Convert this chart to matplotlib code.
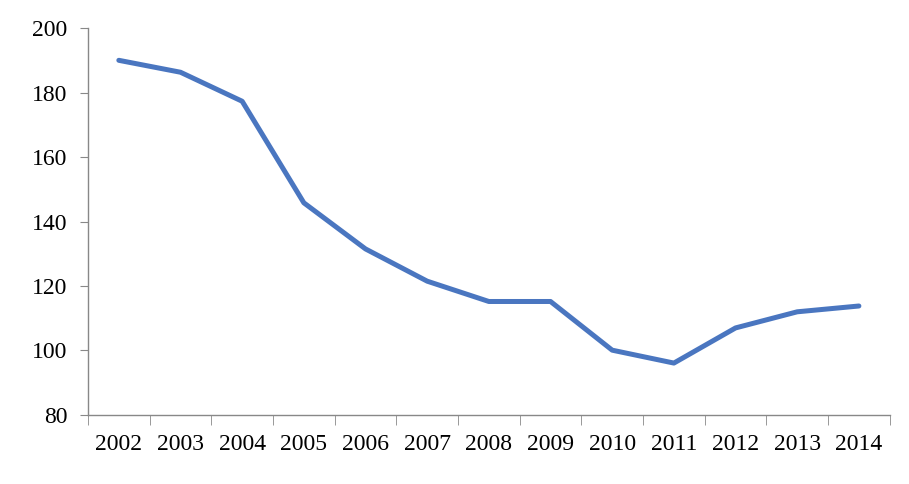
import matplotlib.pyplot as plt
from matplotlib.ticker import FixedLocator

plt.rcParams['font.family'] = ['Liberation Serif', 'DejaVu Serif']

years = ['2002', '2003', '2004', '2005', '2006', '2007', '2008',
         '2009', '2010', '2011', '2012', '2013', '2014']
values = [190, 186.3, 177.3, 145.8, 131.5, 121.5, 115.2,
          115.2, 100.1, 96.1, 107, 112, 113.8]

fig = plt.figure(figsize=(9.09, 4.84), dpi=100)
ax = fig.add_axes([0.0968, 0.1426, 0.882, 0.7994])

x = list(range(len(years)))
ax.plot(x, values, color='#4A76C0', linewidth=3.6, solid_capstyle='round')

ax.set_xlim(-0.5, len(years) - 0.5)
ax.set_ylim(80, 200)
ax.set_yticks(range(80, 201, 20))
ax.set_xticks(x)
ax.set_xticklabels(years)
ax.xaxis.set_minor_locator(FixedLocator([i - 0.5 for i in range(len(years) + 1)]))

for s in ['top', 'right']:
    ax.spines[s].set_visible(False)
for s in ['left', 'bottom']:
    ax.spines[s].set_color('#888888')
    ax.spines[s].set_linewidth(1.0)

ax.tick_params(axis='x', which='major', length=0, pad=14, labelsize=17)
ax.tick_params(axis='x', which='minor', length=7, color='#888888', direction='out')
ax.tick_params(axis='y', length=6, color='#888888', pad=9, labelsize=17)

fig.savefig('out.png', dpi=100)
